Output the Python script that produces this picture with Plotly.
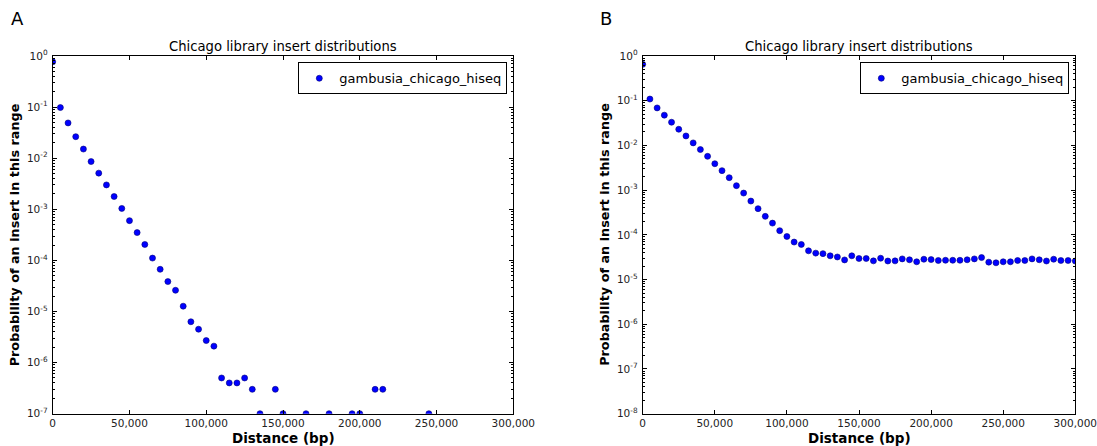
import plotly.graph_objects as go

# ---------------- data ----------------
series_name = "gambusia_chicago_hiseq"
chart_title = "Chicago library insert distributions"

left_x = [0, 5000, 10000, 15000, 20000, 25000, 30000, 35000, 40000, 45000,
          50000, 55000, 60000, 65000, 70000, 75000, 80000, 85000, 90000, 95000,
          100000, 105000, 110000, 115000, 120000, 125000, 130000, 135000,
          145000, 150000, 165000, 180000, 195000, 200000, 210000, 215000, 245000]
left_y = [0.77, 0.098, 0.049, 0.0264, 0.0151, 0.0086, 0.0051, 0.003, 0.00178, 0.00104,
          0.0006, 0.00035, 0.000205, 0.000111, 6.7e-5, 3.85e-5, 2.6e-5, 1.27e-5, 6.3e-6, 4.5e-6,
          2.7e-6, 2.1e-6, 5e-7, 4e-7, 4e-7, 5e-7, 3e-7, 1e-7,
          3e-7, 1e-7, 1e-7, 1e-7, 1e-7, 1e-7, 3e-7, 3e-7, 1e-7]

right_x = [0, 5000, 10000, 15000, 20000, 25000, 30000, 35000, 40000, 45000,
           50000, 55000, 60000, 65000, 70000, 75000, 80000, 85000, 90000, 95000,
           100000, 105000, 110000, 115000, 120000, 125000, 130000, 135000, 140000, 145000,
           150000, 155000, 160000, 165000, 170000, 175000, 180000, 185000, 190000, 195000,
           200000, 205000, 210000, 215000, 220000, 225000, 230000, 235000, 240000, 245000,
           250000, 255000, 260000, 265000, 270000, 275000, 280000, 285000, 290000, 295000,
           300000]
right_y = [0.65, 0.109, 0.069, 0.0475, 0.033, 0.023, 0.0163, 0.0114, 0.0081, 0.0057,
           0.0039, 0.00273, 0.0019, 0.00126, 0.00086, 0.00057, 0.000385, 0.000259, 0.000183, 0.000124,
           9.2e-5, 6.9e-5, 6.1e-5, 4.4e-5, 3.9e-5, 3.8e-5, 3.4e-5, 3.2e-5, 2.75e-5, 3.4e-5,
           2.96e-5, 2.96e-5, 2.62e-5, 3.0e-5, 2.6e-5, 2.62e-5, 2.9e-5, 2.77e-5, 2.5e-5, 2.85e-5,
           2.8e-5, 2.67e-5, 2.7e-5, 2.7e-5, 2.7e-5, 2.77e-5, 2.9e-5, 3.1e-5, 2.45e-5, 2.37e-5,
           2.5e-5, 2.5e-5, 2.67e-5, 2.67e-5, 2.9e-5, 2.77e-5, 2.6e-5, 2.85e-5, 2.67e-5, 2.67e-5,
           2.6e-5]

x_ticks = [0, 50000, 100000, 150000, 200000, 250000, 300000]
left_exponents = [0, -1, -2, -3, -4, -5, -6, -7]
right_exponents = [0, -1, -2, -3, -4, -5, -6, -7, -8]

x_title = "Distance (bp)"
y_title = "Probability of an insert in this range"
panel_labels = ["A", "B"]

# ---------------- figure ----------------
W, H = 1097, 446
FONT = "DejaVu Sans"


def px(x):
    return x / W


def py(y):
    return 1 - y / H


left_dom = [px(52.7), px(513.3)]
right_dom = [px(642.7), px(1075.3)]
y_dom = [py(413.7), py(56)]

marker = dict(size=6, color="#0000ff", line=dict(width=0.6, color="#00007a"))

fig = go.Figure()
fig.add_trace(go.Scatter(x=left_x, y=left_y, mode="markers", name=series_name,
                         marker=marker, xaxis="x", yaxis="y", legend="legend"))
fig.add_trace(go.Scatter(x=right_x, y=right_y, mode="markers", name=series_name,
                         marker=marker, xaxis="x2", yaxis="y2", legend="legend2"))


def xaxis_cfg(dom, anchor):
    return dict(domain=dom, anchor=anchor, range=[0, 300000], tickvals=x_ticks,
                tickformat=",", ticks="inside", ticklen=4, tickwidth=1, tickcolor="#000",
                showline=True, linecolor="#000", linewidth=1, mirror="ticks",
                showgrid=False, zeroline=False, automargin=False, ticklabelstandoff=0,
                ticklabeloverflow="allow",
                tickfont=dict(family=FONT, size=10.5, color="#222"))


def minor_vals(exps):
    vals = []
    for e in exps[1:]:
        for m in range(2, 10):
            vals.append(m * 10.0 ** e)
    return vals


def yaxis_cfg(dom, anchor, exps):
    return dict(domain=dom, anchor=anchor, type="log", range=[min(exps), 0],
                tickvals=[10.0 ** e for e in exps],
                ticktext=["10<sup>%d</sup>" % e for e in exps],
                ticks="inside", ticklen=4, tickwidth=1, tickcolor="#000",
                minor=dict(tickmode="array", tickvals=minor_vals(exps), ticks="inside",
                           ticklen=2, tickwidth=1, tickcolor="#000", showgrid=False),
                showline=True, linecolor="#000", linewidth=1, mirror="ticks",
                showgrid=False, zeroline=False, automargin=False, ticklabelstandoff=2,
                ticklabeloverflow="allow",
                tickfont=dict(family=FONT, size=10.5, color="#222"))


legend_common = dict(font=dict(family=FONT, size=13, color="#000"), bgcolor="#fff",
                     bordercolor="#000", borderwidth=1, xanchor="right", yanchor="top",
                     tracegroupgap=0, itemwidth=30)

fig.update_layout(
    width=W, height=H, margin=dict(l=0, r=0, t=0, b=0, autoexpand=False),
    paper_bgcolor="#fff", plot_bgcolor="#fff",
    font=dict(family=FONT, color="#000"),
    xaxis=xaxis_cfg(left_dom, "y"),
    yaxis=yaxis_cfg(y_dom, "x", left_exponents),
    xaxis2=xaxis_cfg(right_dom, "y2"),
    yaxis2=yaxis_cfg(y_dom, "x2", right_exponents),
    legend=dict(x=px(507.3), y=py(62.3), **legend_common),
    legend2=dict(x=px(1069.3), y=py(62.3), **legend_common),
    showlegend=True,
)

annotations = []
for dom, lab, ylab_x, lab_x in [(left_dom, panel_labels[0], 14.5, 17),
                                 (right_dom, panel_labels[1], 605, 606)]:
    cx = (dom[0] + dom[1]) / 2
    annotations.append(dict(text=chart_title, x=cx, y=py(47), xref="paper", yref="paper",
                            xanchor="center", yanchor="middle", showarrow=False,
                            font=dict(family=FONT, size=13.2, color="#000")))
    annotations.append(dict(text="<b>%s</b>" % x_title, x=cx, y=py(438), xref="paper", yref="paper",
                            xanchor="center", yanchor="middle", showarrow=False,
                            font=dict(family=FONT, size=13.5, color="#000")))
    annotations.append(dict(text="<b>%s</b>" % y_title, x=px(ylab_x), y=(y_dom[0] + y_dom[1]) / 2,
                            xref="paper", yref="paper", textangle=-90,
                            xanchor="center", yanchor="middle", showarrow=False,
                            font=dict(family=FONT, size=12.8, color="#000")))
    annotations.append(dict(text=lab, x=px(lab_x), y=py(18.5), xref="paper", yref="paper",
                            xanchor="center", yanchor="middle", showarrow=False,
                            font=dict(family=FONT, size=18, color="#000")))
fig.update_layout(annotations=annotations)

fig.write_html("out.html")
